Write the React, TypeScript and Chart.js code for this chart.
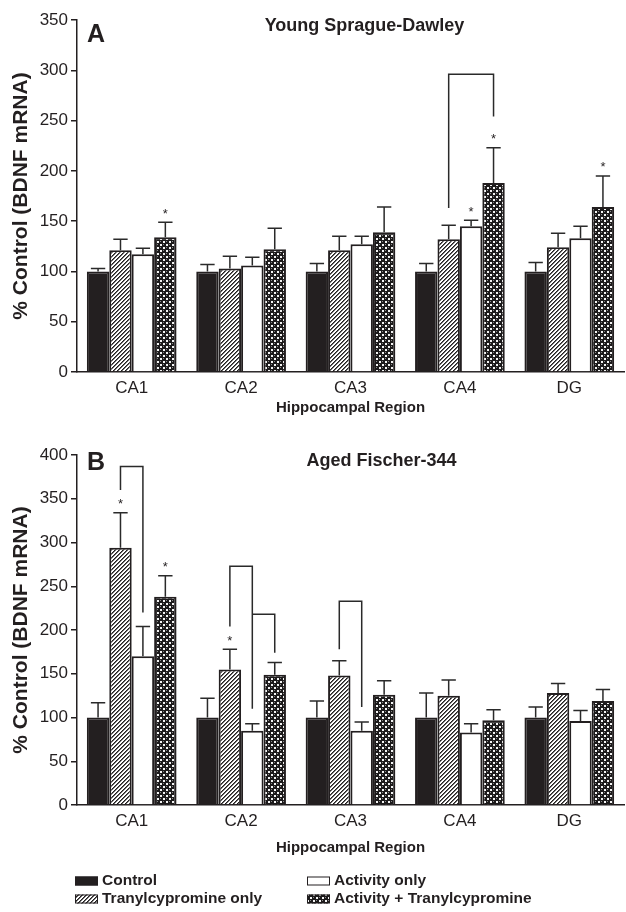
import React, { useEffect, useRef } from 'react';
import { Chart, registerables } from 'chart.js';

Chart.register(...registerables);

const FONT = '"Liberation Sans", Arial, Helvetica, sans-serif';
const INK = '#231f20';

// ---------- data ----------
const categories = ['CA1', 'CA2', 'CA3', 'CA4', 'DG'];
const seriesNames = ['Control', 'Tranylcypromine only', 'Activity only', 'Activity + Tranylcypromine'];

// Panel A: Young Sprague-Dawley (mean and SEM)
const youngControl = [100, 100, 100, 100, 100];
const youngControlSem = [3, 7, 8, 8, 9];
const youngTrany = [121, 103, 121, 132, 124];
const youngTranySem = [11, 12, 14, 14, 14];
const youngActivity = [117, 106, 127, 145, 133];
const youngActivitySem = [6, 8, 8, 6, 12];
const youngBoth = [134, 122, 139, 188, 164];
const youngBothSem = [15, 21, 25, 35, 31];
// [dataset index, category index]
const youngStars = [[3, 0], [2, 3], [3, 3], [3, 4]];
// [category, from dataset, to dataset, left-leg bottom, bracket top, right-leg bottom]
const youngBrackets = [[3, 1, 3, 163, 296, 254]];
const youngTicks = [0, 50, 100, 150, 200, 250, 300, 350];

// Panel B: Aged Fischer-344
const agedControl = [100, 100, 100, 100, 100];
const agedControlSem = [17, 22, 19, 28, 12];
const agedTrany = [294, 155, 148, 125, 128];
const agedTranySem = [40, 23, 17, 18, 11];
const agedActivity = [170, 85, 85, 83, 96];
const agedActivitySem = [34, 8, 10, 10, 12];
const agedBoth = [238, 149, 126, 97, 119];
const agedBothSem = [24, 14, 16, 12, 13];
const agedStars = [[1, 0], [3, 0], [1, 1]];
const agedBrackets = [
  [0, 1, 2, 360, 387, 220],
  [1, 1, 2, 204, 273, 110],
  [1, 2, 3, 218, 218, 174],
  [2, 1, 2, 178, 233, 112],
];
const agedTicks = [0, 50, 100, 150, 200, 250, 300, 350, 400];

// ---------- patterns ----------
function hatchPattern(ctx: CanvasRenderingContext2D) {
  const t = document.createElement('canvas');
  t.width = 4; t.height = 4;
  const c = t.getContext('2d')!;
  c.fillStyle = '#ffffff';
  c.fillRect(0, 0, 4, 4);
  c.fillStyle = INK;
  for (let x = 0; x < 4; x++) {
    for (let y = 0; y < 4; y++) {
      const m = (x + y) % 4;
      if (m === 3) c.fillRect(x, y, 1, 1);
      else if (m === 0) { c.fillStyle = '#6a6a6a'; c.fillRect(x, y, 1, 1); c.fillStyle = INK; }
    }
  }
  return ctx.createPattern(t, 'repeat')!;
}

function dotPattern(ctx: CanvasRenderingContext2D) {
  const t = document.createElement('canvas');
  t.width = 6; t.height = 6;
  const c = t.getContext('2d')!;
  c.fillStyle = '#1c1a1b';
  c.fillRect(0, 0, 6, 6);
  c.fillStyle = '#f4f4f4';
  c.fillRect(1, 1, 2, 2);
  c.fillRect(4, 4, 2, 2);
  c.fillStyle = '#8a8a8a';
  c.fillRect(4, 1, 1, 1);
  c.fillRect(1, 4, 1, 1);
  return ctx.createPattern(t, 'repeat')!;
}

type Panel = {
  letter: string;
  title: string;
  values: number[][];
  sems: number[][];
  stars: number[][];
  brackets: number[][];
  ticks: number[];
  height: number;
  padTop: number;
  padBottom: number;
  xHeight: number;
  letterDy: number;
  titleDx: number;
  titleDy: number;
  legend: boolean;
};

const panelA: Panel = {
  letter: 'A',
  title: 'Young Sprague-Dawley',
  values: [youngControl, youngTrany, youngActivity, youngBoth],
  sems: [youngControlSem, youngTranySem, youngActivitySem, youngBothSem],
  stars: youngStars,
  brackets: youngBrackets,
  ticks: youngTicks,
  height: 425,
  padTop: 20,
  padBottom: 0,
  xHeight: 53,
  letterDy: 15,
  titleDx: 14,
  titleDy: 6,
  legend: false,
};

const panelB: Panel = {
  letter: 'B',
  title: 'Aged Fischer-344',
  values: [agedControl, agedTrany, agedActivity, agedBoth],
  sems: [agedControlSem, agedTranySem, agedActivitySem, agedBothSem],
  stars: agedStars,
  brackets: agedBrackets,
  ticks: agedTicks,
  height: 487,
  padTop: 30,
  padBottom: 47,
  xHeight: 60,
  letterDy: 8,
  titleDx: 31,
  titleDy: 6,
  legend: true,
};

function makeChart(canvas: HTMLCanvasElement, p: Panel) {
  const ctx = canvas.getContext('2d')!;
  const fills: (string | CanvasPattern)[] = [INK, hatchPattern(ctx), '#ffffff', dotPattern(ctx)];

  const overlay = {
    id: 'overlay' + p.letter,
    afterDatasetsDraw(chart: any) {
      const c = chart.ctx as CanvasRenderingContext2D;
      const ys = chart.scales.y;
      c.save();
      c.strokeStyle = '#2a2a2a';
      c.lineWidth = 1.5;
      // error bars
      p.values.forEach((vals, i) => {
        const meta = chart.getDatasetMeta(i);
        vals.forEach((v, j) => {
          const bar = meta.data[j];
          const yt = ys.getPixelForValue(v + p.sems[i][j]);
          const half = bar.width * 0.32;
          c.beginPath();
          c.moveTo(bar.x, bar.y);
          c.lineTo(bar.x, yt);
          c.moveTo(bar.x - half, yt);
          c.lineTo(bar.x + half, yt);
          c.stroke();
        });
      });
      // brackets
      p.brackets.forEach(([cat, a, b, lb, top, rb]) => {
        const x1 = chart.getDatasetMeta(a).data[cat].x;
        const x2 = chart.getDatasetMeta(b).data[cat].x;
        c.beginPath();
        c.moveTo(x1, ys.getPixelForValue(lb));
        c.lineTo(x1, ys.getPixelForValue(top));
        c.lineTo(x2, ys.getPixelForValue(top));
        c.lineTo(x2, ys.getPixelForValue(rb));
        c.stroke();
      });
      // significance stars
      c.fillStyle = INK;
      c.font = `13px ${FONT}`;
      c.textAlign = 'center';
      c.textBaseline = 'middle';
      p.stars.forEach(([i, j]) => {
        const bar = chart.getDatasetMeta(i).data[j];
        const yt = ys.getPixelForValue(p.values[i][j] + p.sems[i][j]);
        c.fillText('*', bar.x, yt - 8);
      });
      c.restore();
    },
    afterDraw(chart: any) {
      const c = chart.ctx as CanvasRenderingContext2D;
      const area = chart.chartArea;
      c.save();
      c.fillStyle = INK;
      c.textBaseline = 'middle';
      c.textAlign = 'left';
      c.font = `bold 25px ${FONT}`;
      c.fillText(p.letter, area.left + 10, area.top + p.letterDy);
      c.textAlign = 'center';
      c.font = `bold 18px ${FONT}`;
      c.fillText(p.title, (area.left + area.right) / 2 + p.titleDx, area.top + p.titleDy);
      if (p.legend) {
        const rows = [
          [0, area.left - 2, area.bottom + 76],
          [1, area.left - 2, area.bottom + 94],
          [2, area.left + 230, area.bottom + 76],
          [3, area.left + 230, area.bottom + 94],
        ];
        c.font = `bold 15.5px ${FONT}`;
        c.textAlign = 'left';
        rows.forEach(([i, x, y]) => {
          c.fillStyle = fills[i] as any;
          c.fillRect(x, y - 4.5, 23, 9);
          c.strokeStyle = INK;
          c.lineWidth = 1;
          c.strokeRect(x + 0.5, y - 4, 22, 8);
          c.fillStyle = INK;
          c.fillText(seriesNames[i], x + 27, y);
        });
      }
      c.restore();
    },
  };

  return new Chart(canvas, {
    type: 'bar',
    data: {
      labels: categories,
      datasets: p.values.map((vals, i) => ({
        label: seriesNames[i],
        data: vals,
        backgroundColor: fills[i] as any,
        borderColor: INK,
        borderWidth: 2,
        categoryPercentage: 0.82,
        barPercentage: 1,
      })),
    },
    options: {
      animation: false,
      responsive: false,
      devicePixelRatio: 1,
      layout: { padding: { top: p.padTop, right: 2, bottom: p.padBottom, left: 0 } },
      plugins: { legend: { display: false }, tooltip: { enabled: false }, title: { display: false } },
      scales: {
        x: {
          grid: { display: false },
          border: { display: true, color: INK, width: 1.5 },
          ticks: { color: INK, font: { family: FONT, size: 17 }, padding: -2 },
          title: {
            display: true,
            text: 'Hippocampal Region',
            color: INK,
            font: { family: FONT, size: 15, weight: 'bold' },
            padding: { top: 0, bottom: 8 },
          },
          afterFit: (s: any) => { s.height = p.xHeight; },
        },
        y: {
          min: 0,
          max: p.ticks[p.ticks.length - 1],
          afterBuildTicks: (s: any) => { s.ticks = p.ticks.map((v) => ({ value: v })); },
          grid: { display: true, drawOnChartArea: false, drawTicks: true, tickLength: 6, color: INK, lineWidth: 1.5 },
          border: { display: true, color: INK, width: 1.5 },
          ticks: { color: INK, font: { family: FONT, size: 17 }, padding: 3 },
          title: {
            display: true,
            text: '% Control (BDNF mRNA)',
            color: INK,
            font: { family: FONT, size: 21, weight: 'bold' },
            padding: { top: 9, bottom: 0 },
          },
          afterFit: (s: any) => { s.width = 77; },
        },
      },
    },
    plugins: [overlay],
  } as any);
}

function PanelChart({ panel, top }: { panel: Panel; top: number }) {
  const ref = useRef<HTMLCanvasElement>(null);
  useEffect(() => {
    const chart = makeChart(ref.current!, panel);
    return () => chart.destroy();
  }, [panel]);
  return (
    <canvas
      ref={ref}
      width={626}
      height={panel.height}
      style={{ position: 'absolute', left: 0, top, width: 626, height: panel.height, display: 'block' }}
    />
  );
}

export default function App() {
  return (
    <div style={{ position: 'fixed', left: 0, top: 0, width: 626, height: 912, background: '#ffffff' }}>
      <PanelChart panel={panelA} top={0} />
      <PanelChart panel={panelB} top={425} />
    </div>
  );
}
